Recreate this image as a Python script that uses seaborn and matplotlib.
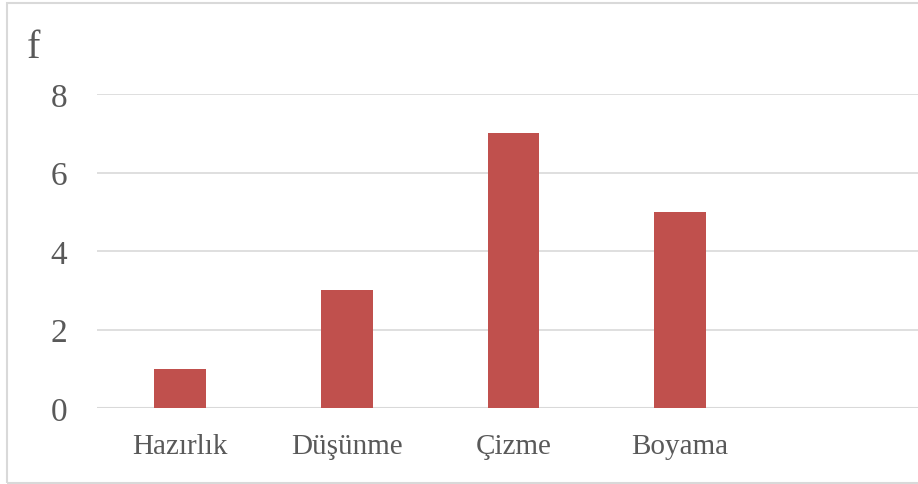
import pandas as pd
import seaborn as sns
import matplotlib.pyplot as plt
from matplotlib.patches import Rectangle

# Values
categories = ['Hazırlık', 'Düşünme', 'Çizme', 'Boyama']
counts = [1, 3, 7, 5]
y_ticks = [0, 2, 4, 6, 8]

df = pd.DataFrame({'Aşama': categories, 'f': counts})

sns.set_style('white')
plt.rcParams['font.family'] = ['Liberation Serif', 'DejaVu Serif']

grid_col = '#D9D9D9'
text_col = '#595959'

fig = plt.figure(figsize=(9.18, 4.85), dpi=100)
# axes extends a bit past the right edge, like the cropped original
ax = fig.add_axes([0.1052, 0.1567, 0.9082, 0.6474])

sns.barplot(data=df, x='Aşama', y='f', color='#C0504D', width=0.31,
            saturation=1, linewidth=0, ax=ax, zorder=3)

ax.set_xlim(-0.5, 4.5)
ax.set_ylim(0, 8)
ax.set_yticks(y_ticks)
ax.yaxis.grid(True, color=grid_col, linewidth=1.2, zorder=0)
for s in ax.spines.values():
    s.set_visible(False)
ax.axhline(0, color=grid_col, linewidth=1.5, zorder=2)

ax.set_xlabel('')
ax.set_ylabel('')
ax.tick_params(axis='both', length=0, colors=text_col)
ax.tick_params(axis='y', labelsize=24, pad=21)
ax.tick_params(axis='x', labelsize=21, pad=18)

fig.text(27 / 918, 1 - 58 / 485, 'f', fontsize=29, color=text_col,
         va='baseline', ha='left')

# chart area border
fig.patches.append(Rectangle((6.5 / 918, 1 - 484 / 485), 2, 480 / 485,
                             transform=fig.transFigure, fill=False,
                             edgecolor=grid_col, linewidth=1.5))

fig.savefig('out.png', dpi=100)
